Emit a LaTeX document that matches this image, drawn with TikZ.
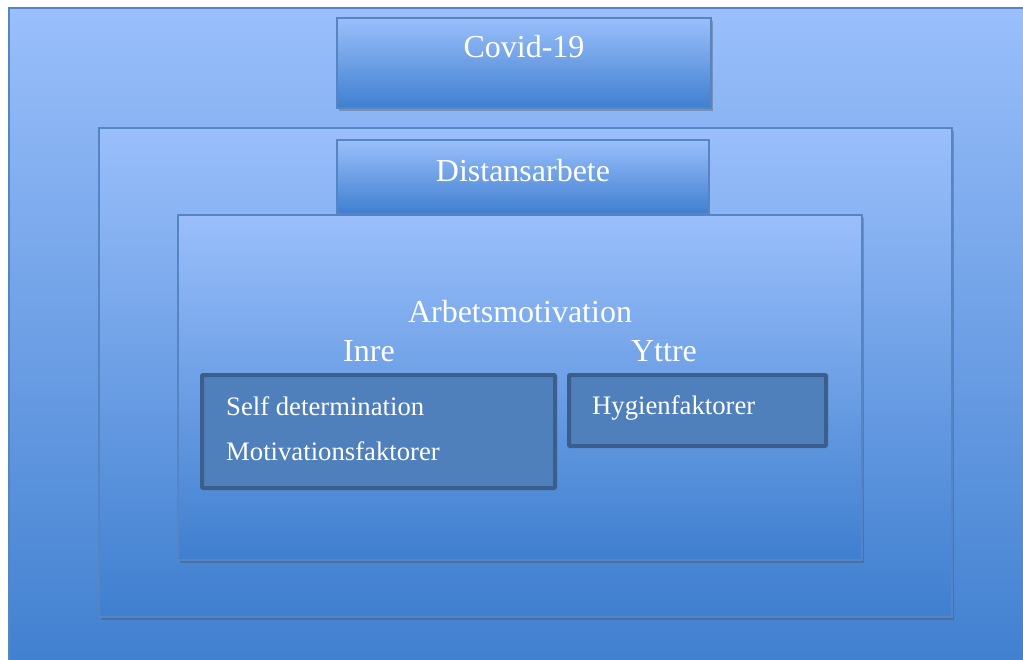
\documentclass[tikz,border=0pt]{standalone}
\usepackage{fontspec}
\setmainfont{Liberation Serif}
\usepackage{tikz}
\usetikzlibrary{positioning, shadows}
\definecolor{paneltop}{HTML}{9ABFFB}
\definecolor{panelbottom}{HTML}{3F7FCF}
\definecolor{panelline}{HTML}{5685C4}
\definecolor{factorfill}{HTML}{4F80BC}
\definecolor{factorline}{HTML}{3A5F8C}

\tikzset{
  panel/.style={draw=panelline, line width=1.5pt, top color=paneltop, bottom color=panelbottom,
    inner sep=0pt, outer sep=0pt, anchor=north west},
  shadowed/.style={drop shadow={shadow xshift=2pt, shadow yshift=-3pt, opacity=0.35, fill=black!70}},
  factorbox/.style={draw=factorline, line width=4pt, fill=factorfill, rounded corners=1pt,
    inner sep=0pt, outer sep=0pt, anchor=north west},
  biglbl/.style={text=white, font=\fontsize{32}{38}\selectfont, inner sep=0pt, anchor=base},
  smalllbl/.style={text=white, font=\fontsize{26.7}{32}\selectfont, inner sep=0pt, anchor=base west}
}

\begin{document}
\begin{tikzpicture}[x=1pt, y=-1pt]
\useasboundingbox (0,0) rectangle (1023,660);
\clip (0,0) rectangle (1023,660);
% outer frame: Covid-19
\node[panel, minimum width=1030pt, minimum height=670pt] (outer) at (9,8) {};
\node[panel, shadowed, minimum width=374pt, minimum height=90pt] (covid) at (337,18) {};
\node[biglbl] (covidlbl) at (524,58) {Covid-19};
% middle frame: Distansarbete
\node[panel, shadowed, minimum width=853pt, minimum height=489pt] (middle) at (99,128) {};
\node[panel, minimum width=372pt, minimum height=74pt] (distans) at (337,140) {};
\node[biglbl] (distanslbl) at (523,182) {Distansarbete};
% inner frame: Arbetsmotivation
\node[panel, shadowed, minimum width=684pt, minimum height=345pt] (inner) at (178,215) {};
\node[biglbl] (motivlbl) at (520,323) {Arbetsmotivation};
\node[biglbl] (inrelbl) at (369,361) {Inre};
\node[biglbl] (yttrelbl) at (664,361) {Yttre};
% factor boxes
\node[factorbox, minimum width=353pt, minimum height=113pt] (inrebox) at (202,375) {};
\node[smalllbl] (selflbl) at (226,415) {Self determination};
\node[smalllbl] (mfaklbl) at (226,460) {Motivationsfaktorer};
\node[factorbox, minimum width=257pt, minimum height=71pt] (yttrebox) at (569,375) {};
\node[smalllbl] (hygienlbl) at (592,414) {Hygienfaktorer};
\end{tikzpicture}
\end{document}
